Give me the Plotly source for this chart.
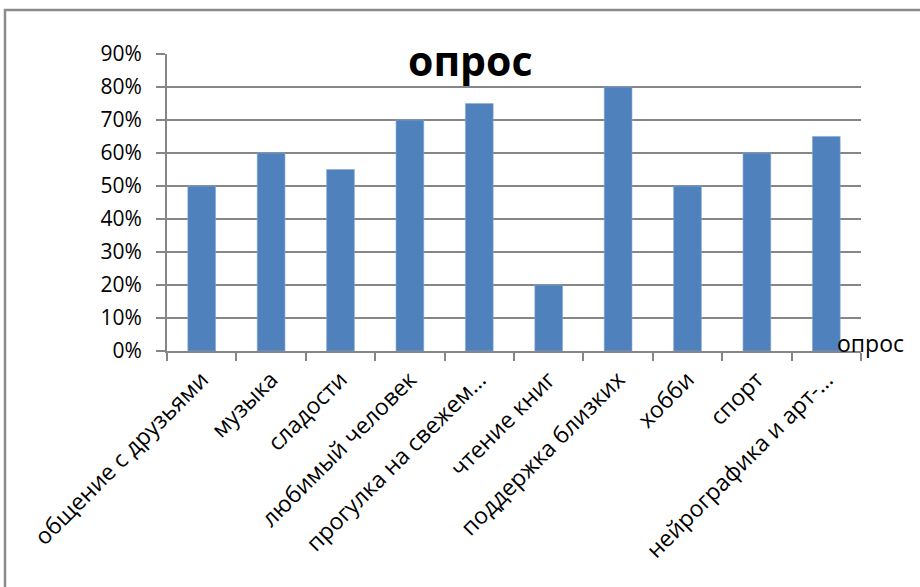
import plotly.graph_objects as go

categories = [
    "общение с друзьями",
    "музыка",
    "сладости",
    "любимый человек",
    "прогулка на свежем…",
    "чтение книг",
    "поддержка близких",
    "хобби",
    "спорт",
    "нейрографика и арт-…",
]
values = [0.50, 0.60, 0.55, 0.70, 0.75, 0.20, 0.80, 0.50, 0.60, 0.65]
series_name = "опрос"
y_ticks = [i / 10 for i in range(10)]
y_tick_labels = [f"{i * 10}%" for i in range(10)]

FONT = "Open Sans"
GREY = "#868686"

fig = go.Figure(
    go.Bar(
        x=categories,
        y=values,
        name=series_name,
        marker=dict(color="#4F81BD", line=dict(color="#8AA9D3", width=0.6)),
        showlegend=False,
    )
)

W, H = 920, 587
L, R, T, B = 167, 59, 54, 236
pw, ph = W - L - R, H - T - B

fig.update_layout(
    width=W,
    height=H,
    margin=dict(l=L, r=R, t=T, b=B),
    paper_bgcolor="white",
    plot_bgcolor="white",
    bargap=0.6,
    font=dict(family=FONT, color="black", size=20),
    xaxis=dict(
        showgrid=False,
        showline=True,
        linecolor=GREY,
        linewidth=2,
        ticks="outside",
        tickson="boundaries",
        ticklen=8,
        tickwidth=2,
        tickcolor=GREY,
        tickangle=-45,
        ticklabelstandoff=4,
        tickfont=dict(size=23, family=FONT),
    ),
    yaxis=dict(
        range=[0, 0.9],
        tickvals=y_ticks + [0.9],
        ticktext=y_tick_labels + ["90%"],
        showgrid=True,
        gridcolor=GREY,
        gridwidth=2,
        showline=True,
        linecolor=GREY,
        linewidth=2,
        ticks="outside",
        ticklen=9,
        tickwidth=2,
        tickcolor=GREY,
        zeroline=False,
        ticklabelstandoff=10,
        tickfont=dict(size=21, family=FONT),
    ),
)

# chart title, drawn over the gridlines
fig.add_annotation(
    text="<b>опрос</b>",
    xref="paper", yref="paper",
    x=(470 - L) / pw, y=1 - (60 - T) / ph,
    xanchor="center", yanchor="middle",
    showarrow=False,
    font=dict(size=41, family=FONT, color="black"),
)

# legend entry text
fig.add_annotation(
    text=series_name,
    xref="paper", yref="paper",
    x=(835 - L) / pw, y=1 - (343 - T) / ph,
    xanchor="left", yanchor="middle",
    showarrow=False,
    font=dict(size=23, family=FONT, color="black"),
)

# chart area frame
fig.add_shape(
    type="rect",
    xref="paper", yref="paper",
    x0=(5 - L) / pw, x1=(930 - L) / pw,
    y0=1 - (600 - T) / ph, y1=1 + (T - 10) / ph,
    line=dict(color="#8C8C8C", width=2.5),
    fillcolor="rgba(0,0,0,0)",
    layer="below",
)

fig.write_html("out.html")
